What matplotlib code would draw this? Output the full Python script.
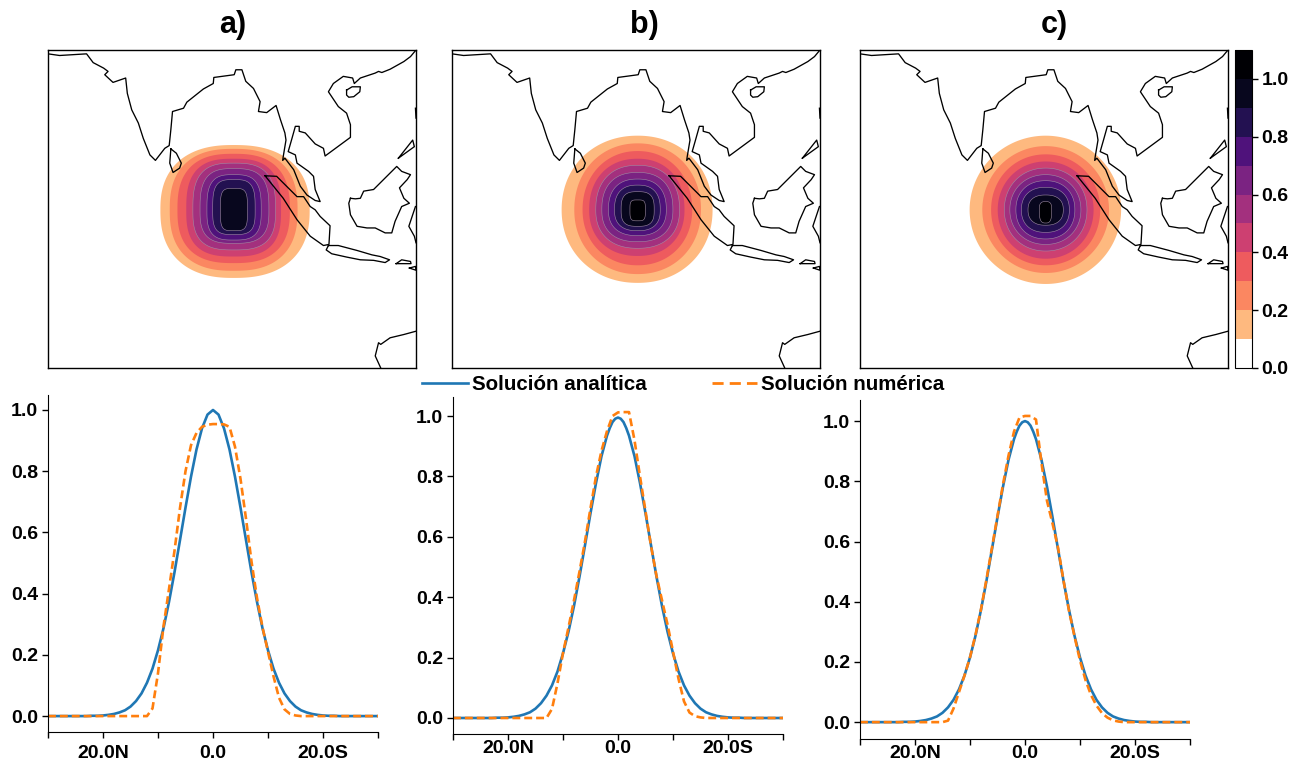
import numpy as np
import matplotlib
matplotlib.use("Agg")
import matplotlib.pyplot as plt
from matplotlib.colors import ListedColormap, BoundaryNorm
from matplotlib.cm import ScalarMappable

plt.rcParams['font.family'] = ['Liberation Sans', 'DejaVu Sans']
plt.rcParams['font.weight'] = 'bold'

# Costas (lon, lat)
costa_asia = [(57.6, 28.2), (59.7, 27.9), (64.6, 28.2), (65.8, 26.6), (67.7, 25.6), (68.5, 25.0), (67.9, 24.4),
              (69.4, 23.0), (71.7, 23.8), (72.0, 21.0), (72.8, 18.0), (74.0, 15.6), (74.9, 12.8), (76.1, 9.8),
              (77.1, 8.8), (78.8, 11.0), (79.6, 11.5), (79.9, 14.4), (80.2, 17.7), (82.2, 18.3), (82.8, 19.4),
              (85.8, 21.8), (87.6, 22.8), (87.7, 23.9), (91.4, 24.4), (91.7, 25.3), (92.8, 25.3), (93.5, 23.2),
              (94.9, 21.9), (96.1, 19.5), (95.8, 17.7), (97.3, 17.5), (99.0, 18.8), (99.8, 16.2), (100.6, 13.8),
              (100.8, 12.5), (100.3, 9.5), (100.2, 8.8), (100.6, 9.2), (102.2, 7.1), (103.4, 4.1), (104.6, 2.5),
              (106.1, 1.5), (107.0, 1.3), (106.1, 3.5), (105.8, 5.9), (104.9, 6.8), (102.8, 8.3), (102.5, 9.8),
              (101.2, 10.4), (101.8, 12.5), (102.5, 15.0), (103.2, 15.0), (103.2, 14.1), (104.3, 13.8), (106.1, 11.8),
              (107.6, 11.0), (107.9, 9.6), (112.5, 13.0), (112.5, 15.3), (111.8, 17.4), (110.3, 18.6), (108.5, 21.3),
              (109.4, 22.8), (111.2, 24.1), (112.9, 23.8), (113.2, 22.8), (114.3, 23.8), (117.0, 24.7), (117.6, 25.0),
              (118.2, 24.8), (119.7, 25.4), (122.2, 26.8), (123.4, 27.7), (124.4, 28.9)]
costa_hainan = [(111.8, 21.6), (112.8, 22.2), (114.3, 22.2), (114.2, 21.3), (113.1, 20.4), (112.2, 20.3), (111.8, 20.7), (111.8, 21.6)]
costa_sri_lanka = [(79.9, 10.9), (80.9, 10.1), (81.8, 8.3), (81.5, 7.4), (80.3, 6.6), (79.7, 8.3), (79.9, 10.9)]
costa_sumatra = [(97.0, 6.0), (99.1, 5.9), (102.8, 2.2), (104.0, 2.2), (105.2, 0.4), (106.1, -0.2), (107.0, -1.4),
                 (108.8, -3.1), (108.6, -6.5), (107.6, -6.7), (105.2, -5.0), (102.8, -2.0), (100.3, 1.9), (97.0, 6.0)]
costa_java = [(108.5, -6.7), (110.3, -6.7), (113.7, -7.6), (116.4, -8.4), (117.9, -8.7), (119.6, -9.3), (118.8, -9.8),
              (116.7, -9.4), (114.3, -9.3), (111.8, -8.8), (109.1, -8.2), (108.1, -7.5), (108.5, -6.7)]
costa_bali = [(120.8, -10.0), (121.8, -9.3), (123.4, -9.6), (123.5, -10.0), (120.8, -10.0)]
costa_timor = [(123.2, -10.8), (124.3, -10.5), (124.4, -11.2), (123.2, -10.8)]
costa_borneo = [(112.5, 1.9), (113.4, 1.8), (114.3, 1.9), (114.9, 3.2), (116.7, 3.5), (118.5, 5.3), (120.0, 6.8),
                (120.9, 7.7), (121.8, 6.8), (123.4, 6.2), (122.8, 5.3), (121.4, 3.8), (122.2, 1.9), (123.2, 1.0),
                (121.8, 0.4), (120.6, -2.3), (120.0, -4.4), (118.8, -4.4), (117.0, -3.5), (115.5, -3.5), (113.7, -3.2),
                (112.5, -1.1), (112.2, 1.0), (112.5, 1.9)]
costa_palawan = [(121.2, 9.2), (123.8, 12.5), (124.1, 11.3), (121.2, 9.2)]
costa_sulawesi = [(124.3, 0.4), (123.1, -3.2), (124.1, -5.0), (124.4, -6.2)]
costa_luzon = [(124.3, 18.3), (124.4, 16.5)]
costa_australia = [(124.4, -22.3), (122.2, -22.9), (119.7, -23.5), (118.0, -24.7), (117.6, -24.4), (117.0, -26.8), (118.0, -29.0)]
costas = [costa_asia, costa_hainan, costa_sri_lanka, costa_sumatra, costa_java, costa_bali, costa_timor,
          costa_borneo, costa_palawan, costa_sulawesi, costa_luzon, costa_australia]

niveles = [0.0, 0.1, 0.2, 0.3, 0.4, 0.5, 0.6, 0.7, 0.8, 0.9, 1.0, 1.1]
colores = ['#ffffff', '#feb97f', '#fb8761', '#ee5b5e', '#cd4071', '#a3307e', '#7b2382', '#4f127b', '#231151', '#08071e', '#000004']
ticks_barra = [0.0, 0.2, 0.4, 0.6, 0.8, 1.0]

# Centro del pulso y semianchos (grados) de cada contorno, de 0.1 hacia arriba
centro_lon = 91.3
centro_lat = -0.2
oeste_a = [13.3, 11.6, 10.2, 8.6, 7.4, 6.1, 4.85, 3.8, 2.4]
este_a = [13.8, 11.6, 10.2, 8.6, 7.6, 6.4, 5.0, 3.9, 2.5]
norte_a = [11.8, 11.1, 10.2, 9.3, 8.5, 7.5, 6.4, 5.5, 3.9]
sur_a = [12.4, 11.1, 9.7, 8.5, 7.3, 6.1, 5.5, 4.5, 3.8]
forma_a = [2.4, 2.5, 2.6, 2.8, 2.9, 3.0, 3.1, 3.4, 4.0]

oeste_b = [13.8, 11.5, 10.0, 8.8, 7.6, 6.5, 5.3, 4.2, 3.0, 1.4]
este_b = [13.6, 11.5, 9.9, 8.5, 7.6, 6.4, 5.2, 4.1, 3.0, 1.4]
norte_b = [13.5, 12.1, 10.7, 9.3, 8.1, 6.8, 5.6, 4.5, 3.3, 1.8]
sur_b = [13.3, 11.7, 10.1, 8.4, 7.0, 5.8, 4.7, 3.8, 3.0, 2.0]
forma_b = [2.1, 2.1, 2.1, 2.2, 2.3, 2.4, 2.4, 2.5, 3.0, 4.0]

oeste_c = [13.8, 11.5, 9.9, 8.7, 7.5, 6.5, 5.4, 4.4, 3.2, 1.15]
este_c = [13.7, 11.5, 9.9, 8.7, 7.5, 6.4, 5.3, 4.3, 3.2, 1.1]
norte_c = [13.5, 11.6, 10.1, 8.8, 7.6, 6.4, 5.3, 4.1, 2.7, 1.5]
sur_c = [13.5, 11.5, 10.1, 8.9, 7.5, 6.3, 5.3, 4.1, 2.8, 2.4]
forma_c = [2.0, 2.0, 2.05, 2.05, 2.1, 2.1, 2.2, 2.3, 2.4, 3.0]

# Perfiles: solucion analitica, mitad derecha (es simetrica)
dist_a = [0, 1, 2, 3, 4, 5, 6, 7, 8, 9, 10, 11, 12, 13, 14, 15, 16, 17, 18, 19, 20, 21, 22, 23, 30]
analitica_a = [1.0, 0.985, 0.94, 0.871, 0.782, 0.681, 0.575, 0.47, 0.373, 0.287, 0.215, 0.155, 0.109, 0.074, 0.049,
               0.031, 0.019, 0.012, 0.007, 0.004, 0.002, 0.001, 0.001, 0.0, 0.0]
dist_bc = [0, 0.5, 1, 1.5, 2, 3, 4, 5, 6, 7, 8, 9, 10, 11, 12, 13, 14, 15, 16, 17, 18, 19, 20, 21, 22, 23, 30]
analitica_b = [0.995, 0.991, 0.98, 0.96, 0.935, 0.867, 0.778, 0.678, 0.572, 0.468, 0.371, 0.286, 0.214, 0.154, 0.108,
               0.074, 0.049, 0.031, 0.019, 0.012, 0.007, 0.004, 0.002, 0.001, 0.001, 0.0, 0.0]
analitica_c = [1.0, 0.996, 0.985, 0.965, 0.94, 0.871, 0.782, 0.681, 0.575, 0.47, 0.373, 0.287, 0.215, 0.155, 0.109,
               0.074, 0.049, 0.031, 0.019, 0.012, 0.007, 0.004, 0.002, 0.001, 0.001, 0.0, 0.0]

# Solucion numerica, de -30 a 30 cada grado
lat_num = list(range(-30, 31))
numerica_a = [0.0] * 19 + [0.025, 0.14, 0.293, 0.415, 0.54, 0.68, 0.80, 0.885, 0.925, 0.945, 0.952,
                           0.954, 0.954, 0.953, 0.945, 0.88, 0.775, 0.645, 0.505, 0.386, 0.29, 0.21, 0.13, 0.06,
                           0.022, 0.007, 0.002] + [0.0] * 15
numerica_b = [0.0] * 18 + [0.03, 0.115, 0.215, 0.30, 0.39, 0.485, 0.585, 0.695, 0.80, 0.885, 0.95, 1.0,
                           1.012, 1.013, 1.013, 0.92, 0.80, 0.685, 0.57, 0.47, 0.39, 0.31, 0.22, 0.13, 0.055,
                           0.018, 0.006, 0.002] + [0.0] * 15
numerica_c = [0.0] * 16 + [0.005, 0.045, 0.10, 0.155, 0.215, 0.29, 0.375, 0.475, 0.58, 0.685, 0.79, 0.885, 0.965, 1.012,
                           1.017, 1.017, 1.005, 0.86, 0.735, 0.66, 0.58, 0.47, 0.37, 0.285, 0.205, 0.14, 0.09, 0.055,
                           0.03, 0.015, 0.006, 0.002] + [0.0] * 13

titulos = ['a)', 'b)', 'c)']
ticks_x = [-30, -20, -10, 0, 10, 20, 30]
etiquetas_x = ['', '20.0N', '', '0.0', '', '20.0S', '']
ticks_y = [0.0, 0.2, 0.4, 0.6, 0.8, 1.0]

W, H = 1298, 763


def caja(x0, y0, x1, y1):
    # pixeles de la imagen a fraccion de la figura
    return [x0 / W, 1 - y1 / H, (x1 - x0) / W, (y1 - y0) / H]


def contorno(oeste, este, norte, sur, p):
    t = np.linspace(0, 2 * np.pi, 241)
    c, s = np.cos(t), np.sin(t)
    x = np.where(c > 0, este, oeste) * np.sign(c) * np.abs(c) ** (2 / p)
    y = np.where(s > 0, norte, sur) * np.sign(s) * np.abs(s) ** (2 / p)
    return centro_lon + x, centro_lat + y


def plot_mapa(ax, oeste, este, norte, sur, forma):
    for i in range(len(oeste)):
        x, y = contorno(oeste[i], este[i], norte[i], sur[i], forma[i])
        borde = '#a08ca4' if i >= 4 else 'none'
        ax.fill(x, y, facecolor=colores[i + 1], edgecolor=borde, linewidth=0.4, zorder=2 + i * 0.01)
    for costa in costas:
        lon, lat = zip(*costa)
        ax.plot(lon, lat, color='black', lw=0.95, zorder=3)
    ax.set_xlim(57.6, 124.4)
    ax.set_ylim(-29.0, 28.9)
    ax.set_xticks([])
    ax.set_yticks([])
    for sp in ax.spines.values():
        sp.set_linewidth(1.0)


def plot_perfil(ax, dist, analitica, numerica, ylim, pad_x):
    x = np.array(dist, dtype=float)
    y = np.array(analitica)
    ax.plot(np.concatenate([-x[:0:-1], x]), np.concatenate([y[:0:-1], y]), color='#1f77b4', lw=1.9,
            label='Solución analítica')
    ax.plot(lat_num, numerica, color='#ff7f0e', lw=1.9, linestyle=(0, (3.0, 1.5)), label='Solución numérica')
    ax.set_xlim(-30, 30)
    ax.set_ylim(*ylim)
    ax.set_xticks(ticks_x)
    ax.set_xticklabels(etiquetas_x)
    ax.set_yticks(ticks_y)
    ax.tick_params(labelsize=14, length=4, width=1, pad=3)
    ax.tick_params(axis='x', pad=pad_x)
    ax.spines['top'].set_visible(False)
    ax.spines['right'].set_visible(False)


fig = plt.figure(figsize=(W / 100, H / 100), dpi=100)

ax_a = fig.add_axes(caja(48, 50, 416, 368))
ax_b = fig.add_axes(caja(452, 50, 820, 368))
ax_c = fig.add_axes(caja(860, 50, 1228, 368))
plot_mapa(ax_a, oeste_a, este_a, norte_a, sur_a, forma_a)
plot_mapa(ax_b, oeste_b, este_b, norte_b, sur_b, forma_b)
plot_mapa(ax_c, oeste_c, este_c, norte_c, sur_c, forma_c)

for titulo, xt in zip(titulos, [233, 644, 1054]):
    fig.text(xt / W, 1 - 25 / H, titulo, fontsize=22, ha='center', va='center')

# Barra de color
cax = fig.add_axes(caja(1235, 50, 1252, 368))
mapa = ListedColormap(colores)
norma = BoundaryNorm(niveles, mapa.N)
barra = fig.colorbar(ScalarMappable(norm=norma, cmap=mapa), cax=cax, ticks=ticks_barra, spacing='proportional')
barra.ax.minorticks_off()
barra.ax.tick_params(labelsize=14, length=4, width=1, pad=3)
barra.set_ticklabels(['%.1f' % t for t in ticks_barra])
barra.outline.set_linewidth(0.8)

# Perfiles
ax1 = fig.add_axes(caja(48, 395, 378, 732))
ax2 = fig.add_axes(caja(453, 397, 783, 734))
ax3 = fig.add_axes(caja(860, 400, 1190, 739))
plot_perfil(ax1, dist_a, analitica_a, numerica_a, (-0.052, 1.049), 5)
plot_perfil(ax2, dist_bc, analitica_b, numerica_b, (-0.053, 1.063), 0)
plot_perfil(ax3, dist_bc, analitica_c, numerica_c, (-0.056, 1.070), 0)

handles, labels = ax1.get_legend_handles_labels()
handles[1] = plt.Line2D([], [], color='#ff7f0e', lw=2.0, linestyle=(0, (4.0, 2.2)))
fig.legend(handles, labels, ncol=2, frameon=False, fontsize=14.8, loc='center', bbox_to_anchor=(683.5 / W, 1 - 385 / H),
           handlelength=2.2, handletextpad=0.2, columnspacing=3.2, borderpad=0, borderaxespad=0)

fig.savefig('out.png', dpi=100)
